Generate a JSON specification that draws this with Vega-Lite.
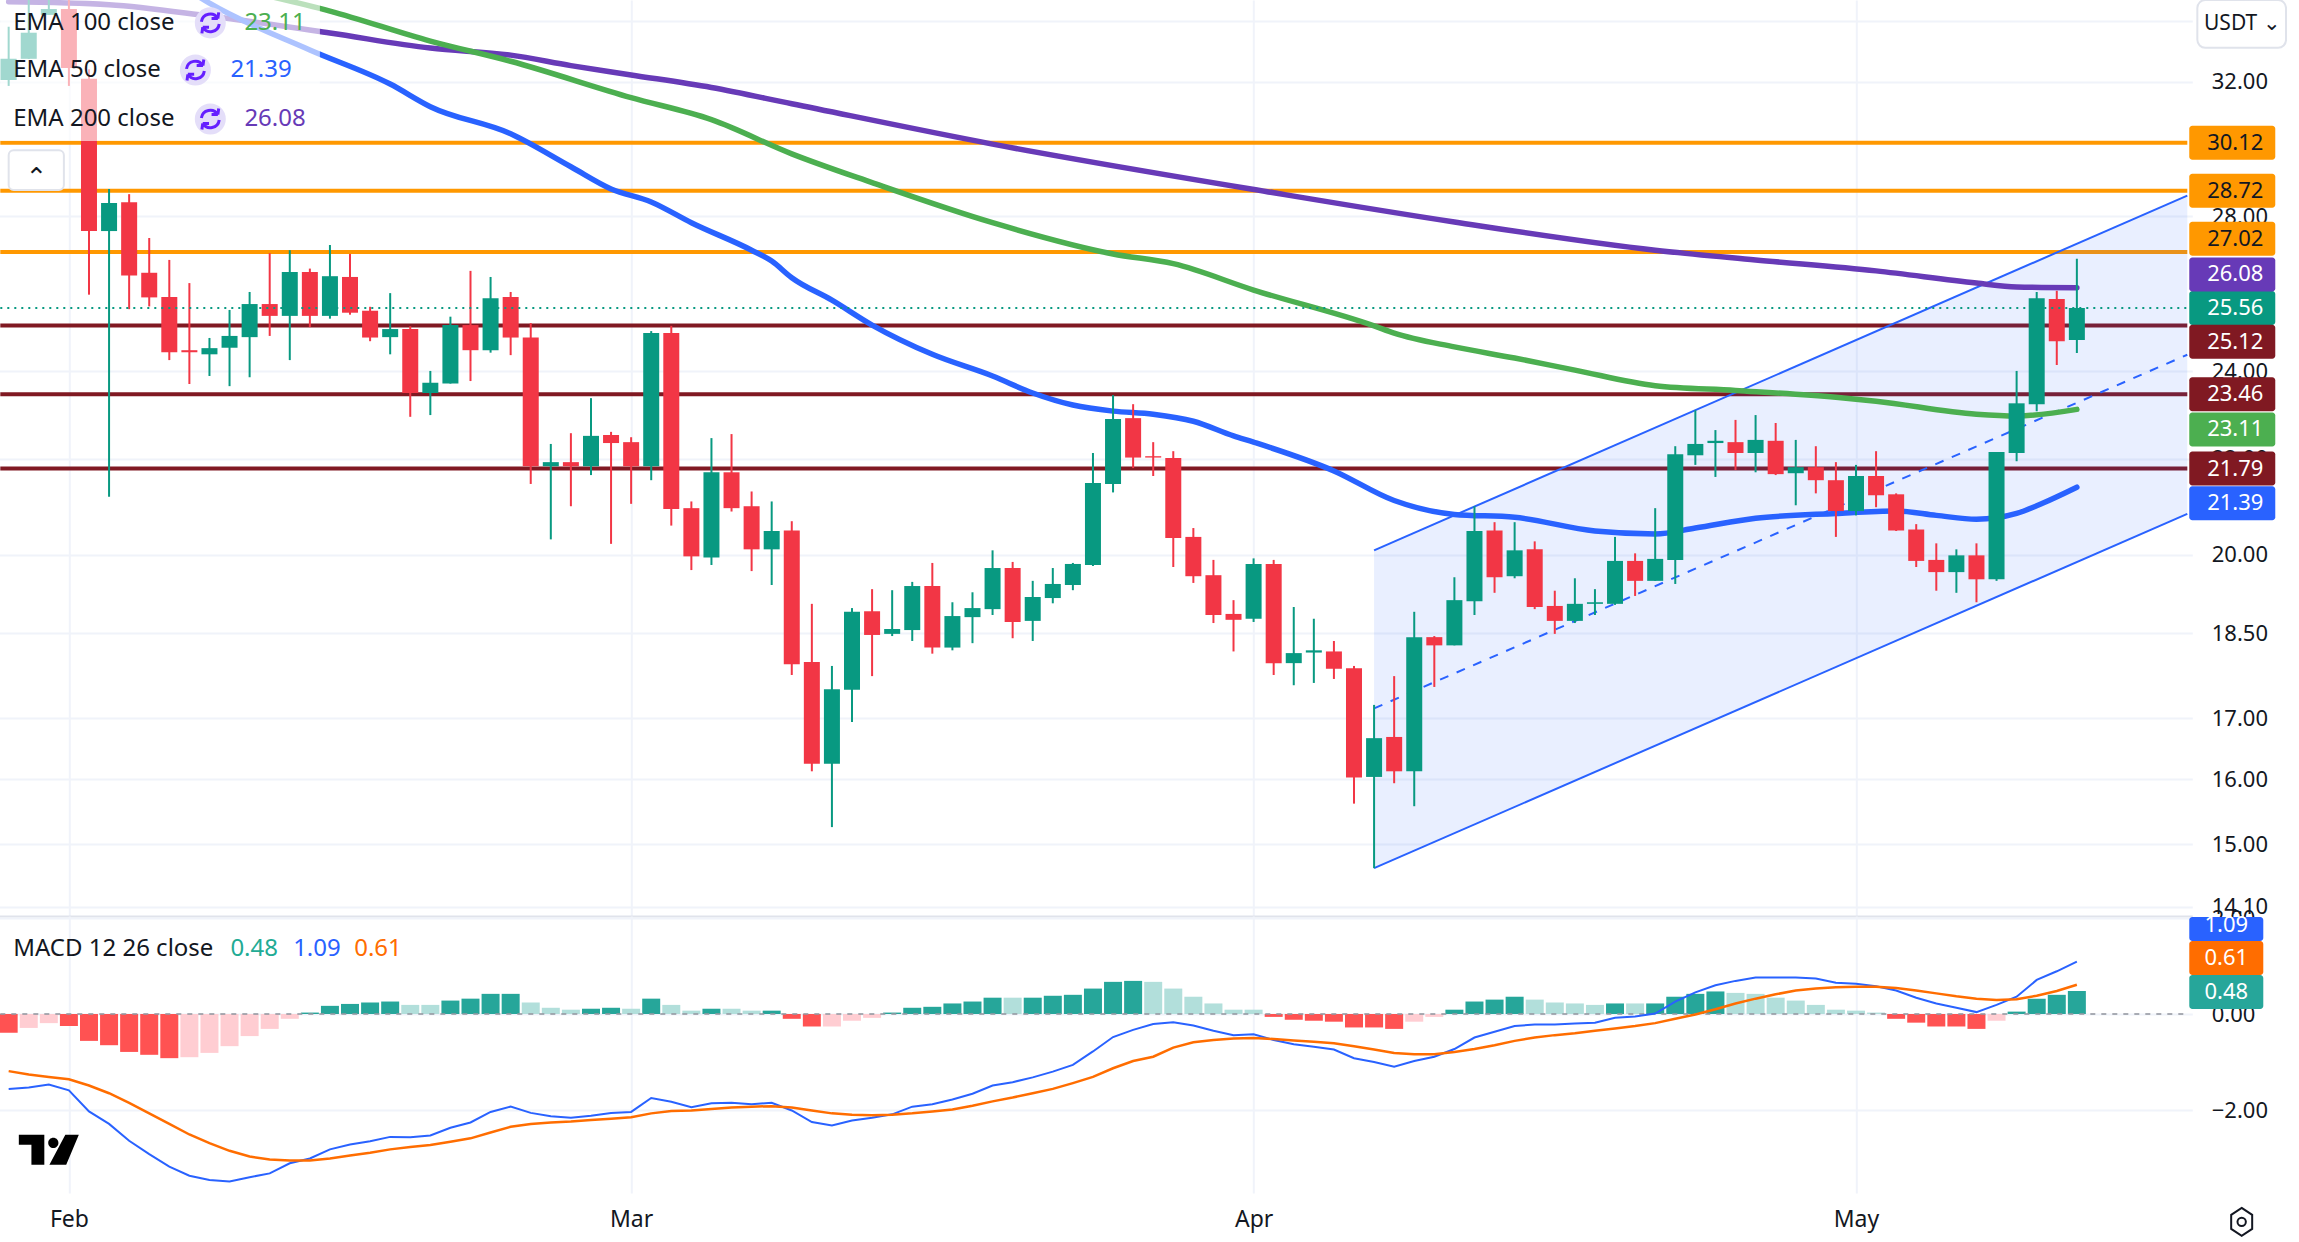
{"$schema":"https://vega.github.io/schema/vega-lite/v6.json","background":"#ffffff","padding":{"left":-4.7,"right":0,"top":-1,"bottom":-2},"autosize":{"type":"pad"},"spacing":0,"bounds":"flush","config":{"view":{"stroke":null},"font":"Noto Sans","axis":{"title":null,"labelFont":"Noto Sans"}},
"datasets":{
"candles":[
{"t":"2025-01-29","o":32.06,"h":33.8,"l":31.87,"c":32.74},{"t":"2025-01-30","o":32.74,"h":34.9,"l":32.74,"c":33.6},{"t":"2025-01-31","o":34.2,"h":35,"l":34.2,"c":34.4},{"t":"2025-02-01","o":34.4,"h":35,"l":31.87,"c":32.44},
{"t":"2025-02-02","o":32.1,"h":32.4,"l":25.9,"c":27.59},{"t":"2025-02-03","o":27.59,"h":28.77,"l":21.19,"c":28.37},{"t":"2025-02-04","o":28.39,"h":28.62,"l":25.53,"c":26.4},{"t":"2025-02-05","o":26.47,"h":27.4,"l":25.6,"c":25.83},{"t":"2025-02-06","o":25.84,"h":26.81,"l":24.27,"c":24.46},{"t":"2025-02-07","o":24.51,"h":26.2,"l":23.7,"c":24.46},{"t":"2025-02-08","o":24.41,"h":24.81,"l":23.89,"c":24.56},{"t":"2025-02-09","o":24.57,"h":25.51,"l":23.65,"c":24.86},{"t":"2025-02-10","o":24.83,"h":25.97,"l":23.86,"c":25.66},{"t":"2025-02-11","o":25.66,"h":26.99,"l":24.86,"c":25.36},{"t":"2025-02-12","o":25.36,"h":27.07,"l":24.27,"c":26.49},{"t":"2025-02-13","o":26.49,"h":26.58,"l":25.08,"c":25.36},{"t":"2025-02-14","o":25.36,"h":27.21,"l":25.29,"c":26.38},{"t":"2025-02-15","o":26.36,"h":26.97,"l":25.39,"c":25.44},{"t":"2025-02-16","o":25.49,"h":25.59,"l":24.73,"c":24.82},{"t":"2025-02-17","o":24.83,"h":25.94,"l":24.41,"c":25.03},{"t":"2025-02-18","o":25.03,"h":25.1,"l":22.94,"c":23.49},{"t":"2025-02-19","o":23.49,"h":24.01,"l":22.98,"c":23.73},{"t":"2025-02-20","o":23.71,"h":25.34,"l":23.71,"c":25.13},{"t":"2025-02-21","o":25.13,"h":26.52,"l":23.77,"c":24.51},{"t":"2025-02-22","o":24.51,"h":26.36,"l":24.45,"c":25.81},{"t":"2025-02-23","o":25.84,"h":25.97,"l":24.39,"c":24.82},{"t":"2025-02-24","o":24.82,"h":25.18,"l":21.46,"c":21.84},{"t":"2025-02-25","o":21.84,"h":22.33,"l":20.31,"c":21.93},{"t":"2025-02-26","o":21.93,"h":22.57,"l":20.99,"c":21.84},{"t":"2025-02-27","o":21.84,"h":23.37,"l":21.65,"c":22.51},{"t":"2025-02-28","o":22.53,"h":22.6,"l":20.22,"c":22.35},
{"t":"2025-03-01","o":22.37,"h":22.48,"l":21.04,"c":21.84},{"t":"2025-03-02","o":21.84,"h":24.98,"l":21.54,"c":24.93},{"t":"2025-03-03","o":24.93,"h":25.11,"l":20.59,"c":20.93},{"t":"2025-03-04","o":20.95,"h":21.09,"l":19.7,"c":19.97},{"t":"2025-03-05","o":19.95,"h":22.46,"l":19.8,"c":21.71},{"t":"2025-03-06","o":21.71,"h":22.55,"l":20.88,"c":20.95},{"t":"2025-03-07","o":20.99,"h":21.3,"l":19.68,"c":20.11},{"t":"2025-03-08","o":20.11,"h":21.09,"l":19.41,"c":20.48},{"t":"2025-03-09","o":20.49,"h":20.68,"l":17.75,"c":17.94},{"t":"2025-03-10","o":17.98,"h":19.05,"l":16.13,"c":16.25},{"t":"2025-03-11","o":16.25,"h":17.91,"l":15.26,"c":17.5},{"t":"2025-03-12","o":17.49,"h":18.97,"l":16.94,"c":18.9},{"t":"2025-03-13","o":18.91,"h":19.33,"l":17.73,"c":18.47},{"t":"2025-03-14","o":18.49,"h":19.31,"l":18.45,"c":18.58},{"t":"2025-03-15","o":18.56,"h":19.47,"l":18.36,"c":19.39},{"t":"2025-03-16","o":19.39,"h":19.84,"l":18.13,"c":18.24},{"t":"2025-03-17","o":18.24,"h":19.08,"l":18.19,"c":18.82},{"t":"2025-03-18","o":18.8,"h":19.27,"l":18.32,"c":18.97},{"t":"2025-03-19","o":18.95,"h":20.09,"l":18.84,"c":19.74},{"t":"2025-03-20","o":19.74,"h":19.86,"l":18.41,"c":18.71},{"t":"2025-03-21","o":18.73,"h":19.49,"l":18.36,"c":19.18},{"t":"2025-03-22","o":19.16,"h":19.74,"l":19.06,"c":19.43},{"t":"2025-03-23","o":19.41,"h":19.84,"l":19.31,"c":19.82},{"t":"2025-03-24","o":19.8,"h":22.13,"l":19.78,"c":21.48},{"t":"2025-03-25","o":21.46,"h":23.44,"l":21.28,"c":22.89},{"t":"2025-03-26","o":22.91,"h":23.23,"l":21.8,"c":22.03},{"t":"2025-03-27","o":22.06,"h":22.37,"l":21.63,"c":22.03},{"t":"2025-03-28","o":22.02,"h":22.17,"l":19.76,"c":20.34},{"t":"2025-03-29","o":20.36,"h":20.54,"l":19.45,"c":19.58},{"t":"2025-03-30","o":19.6,"h":19.9,"l":18.69,"c":18.84},{"t":"2025-03-31","o":18.86,"h":19.12,"l":18.17,"c":18.75},
{"t":"2025-04-01","o":18.77,"h":19.93,"l":18.71,"c":19.82},{"t":"2025-04-02","o":19.82,"h":19.9,"l":17.75,"c":17.96},{"t":"2025-04-03","o":17.96,"h":18.99,"l":17.57,"c":18.14},{"t":"2025-04-04","o":18.15,"h":18.77,"l":17.61,"c":18.19},{"t":"2025-04-05","o":18.17,"h":18.36,"l":17.68,"c":17.86},{"t":"2025-04-06","o":17.87,"h":17.91,"l":15.62,"c":16.03},{"t":"2025-04-07","o":16.04,"h":17.23,"l":14.65,"c":16.67},{"t":"2025-04-08","o":16.69,"h":17.73,"l":15.94,"c":16.13},{"t":"2025-04-09","o":16.13,"h":18.9,"l":15.58,"c":18.43},{"t":"2025-04-10","o":18.43,"h":18.45,"l":17.54,"c":18.28},{"t":"2025-04-11","o":18.28,"h":19.56,"l":18.28,"c":19.12},{"t":"2025-04-12","o":19.1,"h":20.99,"l":18.84,"c":20.48},{"t":"2025-04-13","o":20.49,"h":20.66,"l":19.26,"c":19.56},{"t":"2025-04-14","o":19.58,"h":20.66,"l":19.54,"c":20.09},{"t":"2025-04-15","o":20.11,"h":20.27,"l":18.95,"c":18.99},{"t":"2025-04-16","o":19.01,"h":19.3,"l":18.49,"c":18.73},{"t":"2025-04-17","o":18.73,"h":19.54,"l":18.69,"c":19.05},{"t":"2025-04-18","o":19.05,"h":19.33,"l":18.84,"c":19.08},{"t":"2025-04-19","o":19.05,"h":20.36,"l":19.03,"c":19.88},{"t":"2025-04-20","o":19.88,"h":20.03,"l":19.2,"c":19.49},{"t":"2025-04-21","o":19.49,"h":20.95,"l":19.49,"c":19.92},{"t":"2025-04-22","o":19.9,"h":22.28,"l":19.43,"c":22.1},{"t":"2025-04-23","o":22.08,"h":23.09,"l":21.87,"c":22.33},{"t":"2025-04-24","o":22.35,"h":22.64,"l":21.61,"c":22.4},{"t":"2025-04-25","o":22.37,"h":22.87,"l":21.76,"c":22.13},{"t":"2025-04-26","o":22.13,"h":22.98,"l":21.71,"c":22.42},{"t":"2025-04-27","o":22.4,"h":22.8,"l":21.65,"c":21.67},{"t":"2025-04-28","o":21.69,"h":22.42,"l":21.01,"c":21.82},{"t":"2025-04-29","o":21.82,"h":22.28,"l":21.26,"c":21.54},{"t":"2025-04-30","o":21.54,"h":21.93,"l":20.36,"c":20.89},
{"t":"2025-05-01","o":20.89,"h":21.87,"l":20.8,"c":21.63},{"t":"2025-05-02","o":21.63,"h":22.17,"l":20.97,"c":21.22},{"t":"2025-05-03","o":21.24,"h":21.26,"l":20.48,"c":20.49},{"t":"2025-05-04","o":20.51,"h":20.62,"l":19.76,"c":19.88},{"t":"2025-05-05","o":19.9,"h":20.23,"l":19.3,"c":19.66},{"t":"2025-05-06","o":19.66,"h":20.11,"l":19.26,"c":19.99},{"t":"2025-05-07","o":19.99,"h":20.23,"l":19.08,"c":19.52},{"t":"2025-05-08","o":19.52,"h":22.15,"l":19.49,"c":22.15},{"t":"2025-05-09","o":22.13,"h":24.01,"l":21.95,"c":23.25},{"t":"2025-05-10","o":23.23,"h":25.97,"l":23.07,"c":25.81},{"t":"2025-05-11","o":25.79,"h":26.0,"l":24.15,"c":24.73},{"t":"2025-05-12","o":24.76,"h":26.84,"l":24.44,"c":25.56}],
"ema":[
{"t":"2025-01-29","s":"ema200","v":34.65},{"t":"2025-02-03","s":"ema200","v":34.55},{"t":"2025-02-08","s":"ema200","v":34.16},{"t":"2025-02-14","s":"ema200","v":33.59},{"t":"2025-02-19","s":"ema200","v":33.09},{"t":"2025-02-23","s":"ema200","v":32.86},{"t":"2025-02-26","s":"ema200","v":32.52},{"t":"2025-03-01","s":"ema200","v":32.22},{"t":"2025-03-05","s":"ema200","v":31.82},{"t":"2025-03-09","s":"ema200","v":31.31},{"t":"2025-03-19","s":"ema200","v":30.08},{"t":"2025-04-02","s":"ema200","v":28.66},{"t":"2025-04-11","s":"ema200","v":27.84},{"t":"2025-04-21","s":"ema200","v":27.07},{"t":"2025-04-26","s":"ema200","v":26.81},{"t":"2025-05-02","s":"ema200","v":26.52},{"t":"2025-05-07","s":"ema200","v":26.2},{"t":"2025-05-09","s":"ema200","v":26.1},{"t":"2025-05-12","s":"ema200","v":26.08},
{"t":"2025-02-10","s":"ema100","v":35.0},{"t":"2025-02-14","s":"ema100","v":34.33},{"t":"2025-02-19","s":"ema100","v":33.32},{"t":"2025-02-23","s":"ema100","v":32.66},{"t":"2025-03-01","s":"ema100","v":31.5},{"t":"2025-03-05","s":"ema100","v":30.82},{"t":"2025-03-09","s":"ema100","v":29.79},{"t":"2025-03-13","s":"ema100","v":28.95},{"t":"2025-03-19","s":"ema100","v":27.82},{"t":"2025-03-25","s":"ema100","v":26.97},{"t":"2025-03-28","s":"ema100","v":26.71},{"t":"2025-04-01","s":"ema100","v":26.02},{"t":"2025-04-07","s":"ema100","v":25.11},{"t":"2025-04-08","s":"ema100","v":24.93},{"t":"2025-04-11","s":"ema100","v":24.59},{"t":"2025-04-14","s":"ema100","v":24.32},{"t":"2025-04-17","s":"ema100","v":24.03},{"t":"2025-04-21","s":"ema100","v":23.66},{"t":"2025-04-25","s":"ema100","v":23.55},{"t":"2025-04-30","s":"ema100","v":23.39},{"t":"2025-05-02","s":"ema100","v":23.3},{"t":"2025-05-07","s":"ema100","v":23.0},{"t":"2025-05-09","s":"ema100","v":22.96},{"t":"2025-05-12","s":"ema100","v":23.11},
{"t":"2025-02-06","s":"ema50","v":35.5},{"t":"2025-02-08","s":"ema50","v":34.6},{"t":"2025-02-13","s":"ema50","v":33.03},{"t":"2025-02-17","s":"ema50","v":31.93},{"t":"2025-02-19","s":"ema50","v":31.22},{"t":"2025-02-23","s":"ema50","v":30.39},{"t":"2025-02-26","s":"ema50","v":29.41},{"t":"2025-02-28","s":"ema50","v":28.77},{"t":"2025-03-02","s":"ema50","v":28.4},{"t":"2025-03-04","s":"ema50","v":27.82},{"t":"2025-03-07","s":"ema50","v":27.07},{"t":"2025-03-08","s":"ema50","v":26.78},{"t":"2025-03-09","s":"ema50","v":26.34},{"t":"2025-03-11","s":"ema50","v":25.76},{"t":"2025-03-13","s":"ema50","v":25.13},{"t":"2025-03-16","s":"ema50","v":24.41},{"t":"2025-03-19","s":"ema50","v":23.89},{"t":"2025-03-21","s":"ema50","v":23.49},{"t":"2025-03-23","s":"ema50","v":23.21},{"t":"2025-03-25","s":"ema50","v":23.07},{"t":"2025-03-27","s":"ema50","v":23.0},{"t":"2025-03-29","s":"ema50","v":22.84},{"t":"2025-03-31","s":"ema50","v":22.51},{"t":"2025-04-01","s":"ema50","v":22.37},{"t":"2025-04-05","s":"ema50","v":21.74},{"t":"2025-04-08","s":"ema50","v":21.11},{"t":"2025-04-11","s":"ema50","v":20.82},{"t":"2025-04-14","s":"ema50","v":20.76},{"t":"2025-04-18","s":"ema50","v":20.48},{"t":"2025-04-21","s":"ema50","v":20.42},{"t":"2025-04-23","s":"ema50","v":20.54},{"t":"2025-04-26","s":"ema50","v":20.74},{"t":"2025-04-30","s":"ema50","v":20.84},{"t":"2025-05-03","s":"ema50","v":20.89},{"t":"2025-05-05","s":"ema50","v":20.8},{"t":"2025-05-07","s":"ema50","v":20.72},{"t":"2025-05-09","s":"ema50","v":20.84},{"t":"2025-05-10","s":"ema50","v":21.0},{"t":"2025-05-12","s":"ema50","v":21.39}],
"channel":[{"t":"2025-04-07","hi":20.09,"mid":17.17,"lo":14.65},{"t":"2025-05-17T12:00:00Z","hi":28.58,"mid":24.4,"lo":20.83}],
"levels":[{"p":30.12,"r":"upper"},{"p":28.72,"r":"upper"},{"p":27.02,"r":"upper"},{"p":25.12,"r":"lower"},{"p":23.46,"r":"lower"},{"p":21.79,"r":"lower"}],
"tags":[{"txt":"30.12","p":30.12,"r":"upper"},{"txt":"28.72","p":28.72,"r":"upper"},{"txt":"27.02","p":27.02,"r":"upper"},{"txt":"26.08","p":26.08,"r":"ema200"},{"txt":"25.56","p":25.56,"r":"last"},{"txt":"25.12","p":25.12,"r":"lower"},{"txt":"23.46","p":23.46,"r":"lower"},{"txt":"23.11","p":23.11,"r":"ema100"},{"txt":"21.79","p":21.79,"r":"lower"},{"txt":"21.39","p":21.39,"r":"ema50"}],
"legendText":[{"txt":"EMA 100 close","t":"2025-01-29T05:30:00Z","p":33.93,"g":"name"},{"txt":"23.11","t":"2025-02-09T17:45:00Z","p":33.93,"g":"ema100"},{"txt":"EMA 50 close","t":"2025-01-29T05:30:00Z","p":32.38,"g":"name"},{"txt":"21.39","t":"2025-02-09T01:00:00Z","p":32.38,"g":"ema50"},{"txt":"EMA 200 close","t":"2025-01-29T05:30:00Z","p":30.84,"g":"name"},{"txt":"26.08","t":"2025-02-09T17:45:00Z","p":30.84,"g":"ema200"}],
"legendIcons":[{"t":"2025-02-08T01:00:00Z","p":33.93},{"t":"2025-02-07T07:12:00Z","p":32.38},{"t":"2025-02-08T01:00:00Z","p":30.84}],
"macd":[
{"t":"2025-01-29","h":-0.39,"k":"down_strong","m":-1.56,"s":-1.19},{"t":"2025-01-30","h":-0.29,"k":"down_weak","m":-1.53,"s":-1.26},{"t":"2025-01-31","h":-0.19,"k":"down_weak","m":-1.47,"s":-1.31},{"t":"2025-02-01","h":-0.25,"k":"down_strong","m":-1.59,"s":-1.36},{"t":"2025-02-02","h":-0.56,"k":"down_strong","m":-2.03,"s":-1.49},{"t":"2025-02-03","h":-0.65,"k":"down_strong","m":-2.29,"s":-1.65},{"t":"2025-02-04","h":-0.79,"k":"down_strong","m":-2.64,"s":-1.85},{"t":"2025-02-05","h":-0.85,"k":"down_strong","m":-2.92,"s":-2.07},{"t":"2025-02-06","h":-0.92,"k":"down_strong","m":-3.18,"s":-2.29},{"t":"2025-02-07","h":-0.9,"k":"down_weak","m":-3.37,"s":-2.51},{"t":"2025-02-08","h":-0.81,"k":"down_weak","m":-3.46,"s":-2.69},{"t":"2025-02-09","h":-0.67,"k":"down_weak","m":-3.49,"s":-2.85},{"t":"2025-02-10","h":-0.46,"k":"down_weak","m":-3.4,"s":-2.97},{"t":"2025-02-11","h":-0.31,"k":"down_weak","m":-3.32,"s":-3.03},{"t":"2025-02-12","h":-0.1,"k":"down_weak","m":-3.11,"s":-3.05},{"t":"2025-02-13","h":0.03,"k":"up_strong","m":-3.01,"s":-3.05},{"t":"2025-02-14","h":0.17,"k":"up_strong","m":-2.82,"s":-3.01},{"t":"2025-02-15","h":0.21,"k":"up_strong","m":-2.72,"s":-2.95},{"t":"2025-02-16","h":0.24,"k":"up_strong","m":-2.65,"s":-2.89},{"t":"2025-02-17","h":0.26,"k":"up_strong","m":-2.56,"s":-2.82},{"t":"2025-02-18","h":0.19,"k":"up_weak","m":-2.57,"s":-2.77},{"t":"2025-02-19","h":0.19,"k":"up_weak","m":-2.53,"s":-2.73},{"t":"2025-02-20","h":0.28,"k":"up_strong","m":-2.37,"s":-2.66},{"t":"2025-02-21","h":0.32,"k":"up_strong","m":-2.26,"s":-2.59},{"t":"2025-02-22","h":0.42,"k":"up_strong","m":-2.04,"s":-2.47},{"t":"2025-02-23","h":0.42,"k":"up_strong","m":-1.93,"s":-2.35},{"t":"2025-02-24","h":0.24,"k":"up_weak","m":-2.06,"s":-2.29},{"t":"2025-02-25","h":0.13,"k":"up_weak","m":-2.13,"s":-2.26},{"t":"2025-02-26","h":0.09,"k":"up_weak","m":-2.16,"s":-2.24},{"t":"2025-02-27","h":0.11,"k":"up_strong","m":-2.12,"s":-2.21},{"t":"2025-02-28","h":0.13,"k":"up_strong","m":-2.06,"s":-2.18},
{"t":"2025-03-01","h":0.11,"k":"up_weak","m":-2.04,"s":-2.15},{"t":"2025-03-02","h":0.32,"k":"up_strong","m":-1.75,"s":-2.07},{"t":"2025-03-03","h":0.19,"k":"up_weak","m":-1.83,"s":-2.02},{"t":"2025-03-04","h":0.07,"k":"up_weak","m":-1.94,"s":-2.01},{"t":"2025-03-05","h":0.11,"k":"up_strong","m":-1.86,"s":-1.98},{"t":"2025-03-06","h":0.11,"k":"up_weak","m":-1.85,"s":-1.95},{"t":"2025-03-07","h":0.07,"k":"up_weak","m":-1.88,"s":-1.93},{"t":"2025-03-08","h":0.07,"k":"up_strong","m":-1.85,"s":-1.92},{"t":"2025-03-09","h":-0.1,"k":"down_strong","m":-2.01,"s":-1.95},{"t":"2025-03-10","h":-0.26,"k":"down_strong","m":-2.25,"s":-2.01},{"t":"2025-03-11","h":-0.26,"k":"down_weak","m":-2.32,"s":-2.07},{"t":"2025-03-12","h":-0.14,"k":"down_weak","m":-2.22,"s":-2.1},{"t":"2025-03-13","h":-0.08,"k":"down_weak","m":-2.16,"s":-2.11},{"t":"2025-03-14","h":0.03,"k":"up_strong","m":-2.09,"s":-2.1},{"t":"2025-03-15","h":0.13,"k":"up_strong","m":-1.93,"s":-2.07},{"t":"2025-03-16","h":0.15,"k":"up_strong","m":-1.88,"s":-2.03},{"t":"2025-03-17","h":0.22,"k":"up_strong","m":-1.78,"s":-1.99},{"t":"2025-03-18","h":0.26,"k":"up_strong","m":-1.66,"s":-1.91},{"t":"2025-03-19","h":0.34,"k":"up_strong","m":-1.49,"s":-1.82},{"t":"2025-03-20","h":0.34,"k":"up_weak","m":-1.42,"s":-1.74},{"t":"2025-03-21","h":0.34,"k":"up_strong","m":-1.32,"s":-1.65},{"t":"2025-03-22","h":0.38,"k":"up_strong","m":-1.2,"s":-1.56},{"t":"2025-03-23","h":0.4,"k":"up_strong","m":-1.06,"s":-1.44},{"t":"2025-03-24","h":0.53,"k":"up_strong","m":-0.78,"s":-1.31},{"t":"2025-03-25","h":0.67,"k":"up_strong","m":-0.48,"s":-1.13},{"t":"2025-03-26","h":0.69,"k":"up_strong","m":-0.33,"s":-0.98},{"t":"2025-03-27","h":0.67,"k":"up_weak","m":-0.21,"s":-0.89},{"t":"2025-03-28","h":0.53,"k":"up_weak","m":-0.17,"s":-0.7},{"t":"2025-03-29","h":0.36,"k":"up_weak","m":-0.24,"s":-0.59},{"t":"2025-03-30","h":0.22,"k":"up_weak","m":-0.35,"s":-0.54},{"t":"2025-03-31","h":0.09,"k":"up_weak","m":-0.44,"s":-0.51},
{"t":"2025-04-01","h":0.09,"k":"up_weak","m":-0.42,"s":-0.5},{"t":"2025-04-02","h":-0.06,"k":"down_strong","m":-0.54,"s":-0.52},{"t":"2025-04-03","h":-0.12,"k":"down_strong","m":-0.63,"s":-0.55},{"t":"2025-04-04","h":-0.14,"k":"down_strong","m":-0.68,"s":-0.58},{"t":"2025-04-05","h":-0.16,"k":"down_strong","m":-0.74,"s":-0.61},{"t":"2025-04-06","h":-0.28,"k":"down_strong","m":-0.92,"s":-0.67},{"t":"2025-04-07","h":-0.28,"k":"down_strong","m":-1.0,"s":-0.74},{"t":"2025-04-08","h":-0.31,"k":"down_strong","m":-1.1,"s":-0.81},{"t":"2025-04-09","h":-0.16,"k":"down_weak","m":-0.98,"s":-0.84},{"t":"2025-04-10","h":-0.06,"k":"down_weak","m":-0.89,"s":-0.84},{"t":"2025-04-11","h":0.09,"k":"up_strong","m":-0.73,"s":-0.79},{"t":"2025-04-12","h":0.26,"k":"up_strong","m":-0.49,"s":-0.73},{"t":"2025-04-13","h":0.3,"k":"up_strong","m":-0.37,"s":-0.65},{"t":"2025-04-14","h":0.36,"k":"up_strong","m":-0.25,"s":-0.56},{"t":"2025-04-15","h":0.3,"k":"up_weak","m":-0.22,"s":-0.49},{"t":"2025-04-16","h":0.24,"k":"up_weak","m":-0.22,"s":-0.44},{"t":"2025-04-17","h":0.22,"k":"up_weak","m":-0.2,"s":-0.4},{"t":"2025-04-18","h":0.19,"k":"up_weak","m":-0.18,"s":-0.35},{"t":"2025-04-19","h":0.22,"k":"up_strong","m":-0.08,"s":-0.3},{"t":"2025-04-20","h":0.22,"k":"up_weak","m":-0.05,"s":-0.25},{"t":"2025-04-21","h":0.22,"k":"up_strong","m":0.01,"s":-0.19},{"t":"2025-04-22","h":0.36,"k":"up_strong","m":0.26,"s":-0.1},{"t":"2025-04-23","h":0.42,"k":"up_strong","m":0.45,"s":-0.01},{"t":"2025-04-24","h":0.47,"k":"up_strong","m":0.6,"s":0.1},{"t":"2025-04-25","h":0.44,"k":"up_weak","m":0.69,"s":0.22},{"t":"2025-04-26","h":0.42,"k":"up_weak","m":0.76,"s":0.32},{"t":"2025-04-27","h":0.34,"k":"up_weak","m":0.76,"s":0.41},{"t":"2025-04-28","h":0.28,"k":"up_weak","m":0.76,"s":0.49},{"t":"2025-04-29","h":0.19,"k":"up_weak","m":0.74,"s":0.53},{"t":"2025-04-30","h":0.09,"k":"up_weak","m":0.65,"s":0.56},
{"t":"2025-05-01","h":0.07,"k":"up_weak","m":0.63,"s":0.57},{"t":"2025-05-02","h":0.03,"k":"up_weak","m":0.58,"s":0.57},{"t":"2025-05-03","h":-0.1,"k":"down_strong","m":0.49,"s":0.54},{"t":"2025-05-04","h":-0.18,"k":"down_strong","m":0.34,"s":0.49},{"t":"2025-05-05","h":-0.26,"k":"down_strong","m":0.22,"s":0.43},{"t":"2025-05-06","h":-0.26,"k":"down_strong","m":0.13,"s":0.37},{"t":"2025-05-07","h":-0.31,"k":"down_strong","m":0.04,"s":0.32},{"t":"2025-05-08","h":-0.14,"k":"down_weak","m":0.19,"s":0.29},{"t":"2025-05-09","h":0.05,"k":"up_strong","m":0.36,"s":0.31},{"t":"2025-05-10","h":0.32,"k":"up_strong","m":0.71,"s":0.38},{"t":"2025-05-11","h":0.4,"k":"up_strong","m":0.89,"s":0.48},{"t":"2025-05-12","h":0.48,"k":"up_strong","m":1.09,"s":0.61}],
"macdLegend":[{"txt":"MACD 12 26 close","t":"2025-01-29T05:30:00Z","g":"name"},{"txt":"0.48","t":"2025-02-09T01:00:00Z","g":"hist"},{"txt":"1.09","t":"2025-02-12T04:00:00Z","g":"macd"},{"txt":"0.61","t":"2025-02-15T05:00:00Z","g":"signal"}]
},
"vconcat":[
{"width":2197,"height":916,"resolve":{"scale":{"color":"independent"}},"layer":[
{"data":{"name":"levels"},"mark":{"type":"rule","strokeWidth":4},"encoding":{
"x":{"datum":{"year":2025,"month":1,"date":28,"hours":14,"utc":true},"type":"temporal","scale":{"type":"utc","domain":[{"year":2025,"month":1,"date":28,"hours":14,"utc":true},{"year":2025,"month":5,"date":17,"hours":12,"utc":true}]},"axis":{"values":[{"year":2025,"month":2,"date":1,"utc":true},{"year":2025,"month":3,"date":1,"utc":true},{"year":2025,"month":4,"date":1,"utc":true},{"year":2025,"month":5,"date":1,"utc":true}],"labels":false,"ticks":false,"domain":true,"domainColor":"#e0e3eb","domainWidth":2,"grid":true,"gridColor":"#f0f3fa","gridWidth":2,"title":null}},
"x2":{"datum":{"year":2025,"month":5,"date":17,"hours":12,"utc":true}},
"y":{"field":"p","type":"quantitative","scale":{"type":"log","domain":[13.97,34.71],"nice":false},"axis":{"orient":"right","values":[14.1,15,16,17,18.5,20,22,24,28,32,34],"format":".2f","ticks":false,"domain":false,"grid":true,"gridColor":"#f0f3fa","gridWidth":2,"labelColor":"#131722","labelFontSize":22,"labelPadding":19,"labelOverlap":false,"labelFlush":false,"labelBound":false,"title":null}},
"color":{"field":"r","scale":{"domain":["upper","lower"],"range":["#FF9800","#801922"]},"legend":null}}},
{"data":{"name":"channel"},"mark":{"type":"area","color":"#2962FF","opacity":0.1,"clip":true},"encoding":{"x":{"field":"t","type":"temporal"},"y":{"field":"lo","type":"quantitative"},"y2":{"field":"hi"}}},
{"data":{"name":"channel"},"mark":{"type":"line","color":"#2962FF","strokeWidth":2,"clip":true},"encoding":{"x":{"field":"t","type":"temporal"},"y":{"field":"hi","type":"quantitative"}}},
{"data":{"name":"channel"},"mark":{"type":"line","color":"#2962FF","strokeWidth":2,"clip":true},"encoding":{"x":{"field":"t","type":"temporal"},"y":{"field":"lo","type":"quantitative"}}},
{"data":{"name":"channel"},"mark":{"type":"line","color":"#2962FF","strokeWidth":2,"strokeDash":[9,9],"clip":true},"encoding":{"x":{"field":"t","type":"temporal"},"y":{"field":"mid","type":"quantitative"}}},
{"data":{"name":"ema"},"mark":{"type":"line","strokeWidth":5.5,"strokeCap":"round","strokeJoin":"round","interpolate":"monotone","clip":true},"encoding":{"x":{"field":"t","type":"temporal"},"y":{"field":"v","type":"quantitative"},"color":{"field":"s","scale":{"domain":["ema50","ema100","ema200"],"range":["#2962FF","#4CAF50","#673AB7"]},"legend":null},"detail":{"field":"s"}}},
{"data":{"name":"candles"},"mark":{"type":"rule","strokeWidth":2,"clip":true},"encoding":{"x":{"field":"t","type":"temporal"},"y":{"field":"l","type":"quantitative"},"y2":{"field":"h"},"color":{"condition":{"test":"datum.c>=datum.o","value":"#089981"},"value":"#F23645"}}},
{"data":{"name":"candles"},"mark":{"type":"bar","size":16,"orient":"vertical","clip":true},"encoding":{"x":{"field":"t","type":"temporal"},"y":{"field":"o","type":"quantitative"},"y2":{"field":"c"},"color":{"condition":{"test":"datum.c>=datum.o","value":"#089981"},"value":"#F23645"}}},
{"data":{"values":[{"p":25.56}]},"mark":{"type":"rule","strokeWidth":2,"strokeDash":[2,5],"color":"#089981"},"encoding":{"x":{"datum":{"year":2025,"month":1,"date":28,"hours":14,"utc":true},"type":"temporal"},"x2":{"datum":{"year":2025,"month":5,"date":17,"hours":12,"utc":true}},"y":{"field":"p","type":"quantitative"}}},
{"data":{"values":[{"n":"panel"}]},"mark":{"type":"rect","color":"#ffffff","opacity":0.62},"encoding":{"x":{"datum":{"year":2025,"month":1,"date":28,"hours":14,"utc":true},"type":"temporal"},"x2":{"datum":{"year":2025,"month":2,"date":13,"hours":12,"utc":true}},"y":{"datum":34.71,"type":"quantitative"},"y2":{"datum":30.17}}},
{"data":{"name":"legendIcons"},"mark":{"type":"point","filled":true,"size":962,"color":"#E4DEF9","opacity":1},"encoding":{"x":{"field":"t","type":"temporal"},"y":{"field":"p","type":"quantitative"}}},
{"data":{"name":"legendIcons"},"mark":{"type":"point","filled":false,"size":441,"color":"#651FFF","strokeWidth":3,"opacity":1,"shape":"M-.85,-.1A.85,.85 0 0,1 .72,-.42M.72,-.42L.8,-1M.72,-.42L.12,-.42M.85,.1A.85,.85 0 0,1 -.72,.42M-.72,.42L-.8,1M-.72,.42L-.12,.42"},"encoding":{"x":{"field":"t","type":"temporal"},"y":{"field":"p","type":"quantitative"}}},
{"data":{"name":"legendText"},"mark":{"type":"text","align":"left","fontSize":24},"encoding":{"x":{"field":"t","type":"temporal"},"y":{"field":"p","type":"quantitative"},"text":{"field":"txt"},"color":{"field":"g","scale":{"domain":["name","ema100","ema50","ema200"],"range":["#131722","#4CAF50","#2962FF","#673AB7"]},"legend":null}}},
{"data":{"values":[{"n":"collapse"}]},"mark":{"type":"rect","fill":"#ffffff","stroke":"#e0e3eb","strokeWidth":2,"cornerRadius":5},"encoding":{"x":{"datum":{"year":2025,"month":1,"date":29,"hours":0,"utc":true},"type":"temporal"},"x2":{"datum":{"year":2025,"month":1,"date":31,"hours":18,"utc":true}},"y":{"datum":29.9,"type":"quantitative"},"y2":{"datum":28.74}}},
{"data":{"values":[{"p":29.2,"t":"2025-01-30T09:00:00Z"}]},"mark":{"type":"text","text":"⌃","font":"DejaVu Sans","fontSize":26,"color":"#131722","dy":4},"encoding":{"x":{"field":"t","type":"temporal"},"y":{"field":"p","type":"quantitative"}}},
{"data":{"values":[{"n":"currency"}]},"mark":{"type":"rect","fill":"#ffffff","stroke":"#e0e3eb","strokeWidth":2,"cornerRadius":8},"encoding":{"x":{"datum":{"year":2025,"month":5,"date":18,"hours":0,"utc":true},"type":"temporal"},"x2":{"datum":{"year":2025,"month":5,"date":22,"hours":10,"utc":true}},"y":{"datum":34.71,"type":"quantitative"},"y2":{"datum":33.1}}},
{"data":{"values":[{"p":33.88,"t":"2025-05-18T08:00:00Z"}]},"mark":{"type":"text","text":"USDT ⌄","align":"left","fontSize":21,"color":"#131722"},"encoding":{"x":{"field":"t","type":"temporal"},"y":{"field":"p","type":"quantitative"}}},
{"data":{"name":"tags"},"transform":[{"filter":{"field":"txt","oneOf":["30.12","28.72","25.56","23.46","21.79"]}}],"mark":{"type":"tick","orient":"horizontal","thickness":34,"size":86,"cornerRadius":3,"opacity":1},"encoding":{"x":{"datum":{"year":2025,"month":5,"date":19,"hours":17,"minutes":45,"utc":true},"type":"temporal"},"y":{"field":"p","type":"quantitative"},"color":{"field":"r","scale":{"domain":["upper","lower","last"],"range":["#FF9800","#801922","#089981"]},"legend":null}}},
{"data":{"name":"tags"},"transform":[{"filter":{"field":"txt","equal":"27.02"}}],"mark":{"type":"tick","orient":"horizontal","thickness":34,"size":86,"cornerRadius":3,"opacity":1,"color":"#FF9800","yOffset":-13.4},"encoding":{"x":{"datum":{"year":2025,"month":5,"date":19,"hours":17,"minutes":45,"utc":true},"type":"temporal"},"y":{"field":"p","type":"quantitative"}}},
{"data":{"name":"tags"},"transform":[{"filter":{"field":"txt","equal":"26.08"}}],"mark":{"type":"tick","orient":"horizontal","thickness":34,"size":86,"cornerRadius":3,"opacity":1,"color":"#673AB7","yOffset":-13.3},"encoding":{"x":{"datum":{"year":2025,"month":5,"date":19,"hours":17,"minutes":45,"utc":true},"type":"temporal"},"y":{"field":"p","type":"quantitative"}}},
{"data":{"name":"tags"},"transform":[{"filter":{"field":"txt","equal":"25.12"}}],"mark":{"type":"tick","orient":"horizontal","thickness":34,"size":86,"cornerRadius":3,"opacity":1,"color":"#801922","yOffset":16.3},"encoding":{"x":{"datum":{"year":2025,"month":5,"date":19,"hours":17,"minutes":45,"utc":true},"type":"temporal"},"y":{"field":"p","type":"quantitative"}}},
{"data":{"name":"tags"},"transform":[{"filter":{"field":"txt","equal":"23.11"}}],"mark":{"type":"tick","orient":"horizontal","thickness":34,"size":86,"cornerRadius":3,"opacity":1,"color":"#4CAF50","yOffset":20},"encoding":{"x":{"datum":{"year":2025,"month":5,"date":19,"hours":17,"minutes":45,"utc":true},"type":"temporal"},"y":{"field":"p","type":"quantitative"}}},
{"data":{"name":"tags"},"transform":[{"filter":{"field":"txt","equal":"21.39"}}],"mark":{"type":"tick","orient":"horizontal","thickness":34,"size":86,"cornerRadius":3,"opacity":1,"color":"#2962FF","yOffset":16},"encoding":{"x":{"datum":{"year":2025,"month":5,"date":19,"hours":17,"minutes":45,"utc":true},"type":"temporal"},"y":{"field":"p","type":"quantitative"}}},
{"data":{"name":"tags"},"transform":[{"filter":{"field":"txt","oneOf":["30.12","28.72","25.56","23.46","21.79"]}}],"mark":{"type":"text","fontSize":22,"dx":3},"encoding":{"x":{"datum":{"year":2025,"month":5,"date":19,"hours":17,"minutes":45,"utc":true},"type":"temporal"},"y":{"field":"p","type":"quantitative"},"text":{"field":"txt"},"color":{"condition":{"test":"datum.r==='upper'","value":"#131722"},"value":"#ffffff"}}},
{"data":{"name":"tags"},"transform":[{"filter":{"field":"txt","equal":"27.02"}}],"mark":{"type":"text","fontSize":22,"dx":3,"color":"#131722","yOffset":-13.4},"encoding":{"x":{"datum":{"year":2025,"month":5,"date":19,"hours":17,"minutes":45,"utc":true},"type":"temporal"},"y":{"field":"p","type":"quantitative"},"text":{"field":"txt"}}},
{"data":{"name":"tags"},"transform":[{"filter":{"field":"txt","equal":"26.08"}}],"mark":{"type":"text","fontSize":22,"dx":3,"color":"#ffffff","yOffset":-13.3},"encoding":{"x":{"datum":{"year":2025,"month":5,"date":19,"hours":17,"minutes":45,"utc":true},"type":"temporal"},"y":{"field":"p","type":"quantitative"},"text":{"field":"txt"}}},
{"data":{"name":"tags"},"transform":[{"filter":{"field":"txt","equal":"25.12"}}],"mark":{"type":"text","fontSize":22,"dx":3,"color":"#ffffff","yOffset":16.3},"encoding":{"x":{"datum":{"year":2025,"month":5,"date":19,"hours":17,"minutes":45,"utc":true},"type":"temporal"},"y":{"field":"p","type":"quantitative"},"text":{"field":"txt"}}},
{"data":{"name":"tags"},"transform":[{"filter":{"field":"txt","equal":"23.11"}}],"mark":{"type":"text","fontSize":22,"dx":3,"color":"#ffffff","yOffset":20},"encoding":{"x":{"datum":{"year":2025,"month":5,"date":19,"hours":17,"minutes":45,"utc":true},"type":"temporal"},"y":{"field":"p","type":"quantitative"},"text":{"field":"txt"}}},
{"data":{"name":"tags"},"transform":[{"filter":{"field":"txt","equal":"21.39"}}],"mark":{"type":"text","fontSize":22,"dx":3,"color":"#ffffff","yOffset":16},"encoding":{"x":{"datum":{"year":2025,"month":5,"date":19,"hours":17,"minutes":45,"utc":true},"type":"temporal"},"y":{"field":"p","type":"quantitative"},"text":{"field":"txt"}}}
]},
{"width":2197,"height":277,"resolve":{"scale":{"color":"independent"}},"layer":[
{"data":{"name":"macd"},"mark":{"type":"bar","size":18,"orient":"vertical"},"encoding":{
"x":{"field":"t","type":"temporal","scale":{"type":"utc","domain":[{"year":2025,"month":1,"date":28,"hours":14,"utc":true},{"year":2025,"month":5,"date":17,"hours":12,"utc":true}]},"axis":{"values":[{"year":2025,"month":2,"date":1,"utc":true},{"year":2025,"month":3,"date":1,"utc":true},{"year":2025,"month":4,"date":1,"utc":true},{"year":2025,"month":5,"date":1,"utc":true}],"format":"%b","ticks":false,"domain":false,"grid":true,"gridColor":"#f0f3fa","gridWidth":2,"labelColor":"#131722","labelFontSize":23,"labelPadding":16,"labelOverlap":false,"title":null}},
"y":{"field":"h","type":"quantitative","stack":null,"scale":{"domain":[-3.729,2.042],"nice":false,"zero":false},"axis":{"orient":"right","values":[-2,0,2],"format":".2f","ticks":false,"domain":false,"grid":true,"gridColor":"#f0f3fa","gridWidth":2,"labelColor":"#131722","labelFontSize":22,"labelPadding":19,"labelOverlap":false,"labelFlush":false,"labelBound":false,"title":null}},
"color":{"field":"k","scale":{"domain":["up_strong","up_weak","down_strong","down_weak"],"range":["#26A69A","#B2DFDB","#FF5252","#FFCDD2"]},"legend":null}}},
{"data":{"values":[{"v":0}]},"mark":{"type":"rule","strokeWidth":2,"strokeDash":[5,6],"color":"#9598a1","opacity":0.8},"encoding":{"x":{"datum":{"year":2025,"month":1,"date":28,"hours":14,"utc":true},"type":"temporal"},"x2":{"datum":{"year":2025,"month":5,"date":17,"hours":12,"utc":true}},"y":{"field":"v","type":"quantitative"}}},
{"data":{"name":"macd"},"mark":{"type":"line","strokeWidth":2,"color":"#2962FF"},"encoding":{"x":{"field":"t","type":"temporal"},"y":{"field":"m","type":"quantitative"}}},
{"data":{"name":"macd"},"mark":{"type":"line","strokeWidth":2.5,"color":"#FF6D00"},"encoding":{"x":{"field":"t","type":"temporal"},"y":{"field":"s","type":"quantitative"}}},
{"data":{"name":"macdLegend"},"mark":{"type":"text","align":"left","fontSize":24},"encoding":{"x":{"field":"t","type":"temporal"},"y":{"datum":1.354,"type":"quantitative"},"text":{"field":"txt"},"color":{"field":"g","scale":{"domain":["name","hist","macd","signal"],"range":["#131722","#22AB94","#2962FF","#FF6D00"]},"legend":null}}},
{"data":{"values":[{"v":1.09,"txt":"1.09"}]},"mark":{"type":"tick","orient":"horizontal","thickness":24,"size":74,"cornerRadius":3,"opacity":1,"color":"#2962FF","yOffset":-32.7},"encoding":{"x":{"datum":{"year":2025,"month":5,"date":19,"hours":10,"minutes":36,"utc":true},"type":"temporal"},"y":{"field":"v","type":"quantitative"}}},
{"data":{"values":[{"v":0.61,"txt":"0.61"}]},"mark":{"type":"tick","orient":"horizontal","thickness":34,"size":74,"cornerRadius":3,"opacity":1,"color":"#FF6D00","yOffset":-26.7},"encoding":{"x":{"datum":{"year":2025,"month":5,"date":19,"hours":10,"minutes":36,"utc":true},"type":"temporal"},"y":{"field":"v","type":"quantitative"}}},
{"data":{"values":[{"v":0.48,"txt":"0.48"}]},"mark":{"type":"tick","orient":"horizontal","thickness":34,"size":74,"cornerRadius":3,"opacity":1,"color":"#26A69A","yOffset":1},"encoding":{"x":{"datum":{"year":2025,"month":5,"date":19,"hours":10,"minutes":36,"utc":true},"type":"temporal"},"y":{"field":"v","type":"quantitative"}}},
{"data":{"values":[{"v":1.09,"txt":"1.09"}]},"mark":{"type":"text","fontSize":22,"color":"#ffffff","yOffset":-36.7},"encoding":{"x":{"datum":{"year":2025,"month":5,"date":19,"hours":10,"minutes":36,"utc":true},"type":"temporal"},"y":{"field":"v","type":"quantitative"},"text":{"field":"txt"}}},
{"data":{"values":[{"v":0.61,"txt":"0.61"}]},"mark":{"type":"text","fontSize":22,"color":"#ffffff","yOffset":-26.7},"encoding":{"x":{"datum":{"year":2025,"month":5,"date":19,"hours":10,"minutes":36,"utc":true},"type":"temporal"},"y":{"field":"v","type":"quantitative"},"text":{"field":"txt"}}},
{"data":{"values":[{"v":0.48,"txt":"0.48"}]},"mark":{"type":"text","fontSize":22,"color":"#ffffff","yOffset":1},"encoding":{"x":{"datum":{"year":2025,"month":5,"date":19,"hours":10,"minutes":36,"utc":true},"type":"temporal"},"y":{"field":"v","type":"quantitative"},"text":{"field":"txt"}}},
{"data":{"values":[{"n":"logo"}]},"mark":{"type":"point","filled":true,"size":3600,"opacity":1,"color":"#000000","shape":"M-1,-.5L-.15,-.5L-.15,.5L-.58,.5L-.58,-.17L-1,-.17ZM-.02,-.23a.17,.17 0 1,0 .34,0a.17,.17 0 1,0 -.34,0ZM.55,-.5L1,-.5L.58,.5L.02,.5Z"},"encoding":{"x":{"datum":{"year":2025,"month":1,"date":31,"utc":true},"type":"temporal"},"y":{"datum":-2.83,"type":"quantitative"}}},
{"data":{"values":[{"n":"settings"}]},"mark":{"type":"point","filled":false,"size":784,"opacity":1,"color":"#131722","strokeWidth":2,"shape":"M0,-1L.75,-.5L.75,.5L0,1L-.75,.5L-.75,-.5Z"},"encoding":{"x":{"datum":{"year":2025,"month":5,"date":20,"hours":5,"utc":true},"type":"temporal"},"y":{"datum":-4.33,"type":"quantitative"}}},
{"data":{"values":[{"n":"settings"}]},"mark":{"type":"point","filled":false,"size":70,"opacity":1,"color":"#131722","strokeWidth":2},"encoding":{"x":{"datum":{"year":2025,"month":5,"date":20,"hours":5,"utc":true},"type":"temporal"},"y":{"datum":-4.33,"type":"quantitative"}}}
]}
]}
